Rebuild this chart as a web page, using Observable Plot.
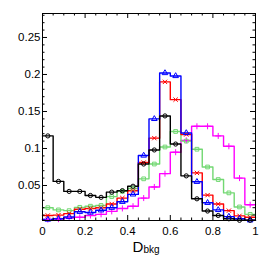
<!DOCTYPE html>
<html>
<head>
<meta charset="utf-8">
<script src="https://cdn.jsdelivr.net/npm/d3@7"></script>
<script src="https://cdn.jsdelivr.net/npm/@observablehq/plot@0.6"></script>
<style>
  html, body { margin: 0; padding: 0; background: #fff; }
  #chart svg { display: block; }
</style>
</head>
<body>
<div id="chart"></div>
<script>
// Bin lower edges of D_bkg (bin width 0.05)
const binLow = [0, 0.05, 0.1, 0.15, 0.2, 0.25, 0.3, 0.35, 0.4, 0.45, 0.5, 0.55, 0.6, 0.65, 0.7, 0.75, 0.8, 0.85, 0.9, 0.95];
const binWidth = 0.05;
const xMax = 1;

// Series values (normalised)
const blackVals   = [0.117, 0.0555, 0.042, 0.042, 0.0365, 0.034, 0.041, 0.043, 0.049, 0.079, 0.098, 0.144, 0.106, 0.063, 0.032, 0.0155, 0.0095, 0.005, 0.003, 0.003];
const blueVals    = [0.004, 0.005, 0.0075, 0.0145, 0.0135, 0.0165, 0.020, 0.028, 0.038, 0.0905, 0.140, 0.202, 0.198, 0.121, 0.055, 0.0266, 0.017, 0.008, 0.005, 0.003];
const redVals     = [0.0095, 0.010, 0.012, 0.018, 0.019, 0.020, 0.025, 0.033, 0.043, 0.081, 0.114, 0.190, 0.166, 0.119, 0.067, 0.037, 0.025, 0.016, 0.009, 0.007];
const greenVals   = [0.020, 0.017, 0.016, 0.0205, 0.022, 0.023, 0.035, 0.042, 0.046, 0.059, 0.079, 0.102, 0.123, 0.110, 0.099, 0.075, 0.058, 0.040, 0.021, 0.011];
const magentaVals = [0.004, 0.0045, 0.006, 0.007, 0.0095, 0.011, 0.015, 0.019, 0.022, 0.033, 0.048, 0.066, 0.095, 0.111, 0.130, 0.130, 0.117, 0.103, 0.060, 0.024];

// Axis ticks and labels
const xMajor = [0, 0.2, 0.4, 0.6, 0.8, 1];
const xMajorLabels = ["0", "0.2", "0.4", "0.6", "0.8", "1"];
const xMinor = [0.05, 0.1, 0.15, 0.25, 0.3, 0.35, 0.45, 0.5, 0.55, 0.65, 0.7, 0.75, 0.85, 0.9, 0.95];
const yMajor = [0.05, 0.1, 0.15, 0.2, 0.25];
const yMajorLabels = ["0.05", "0.1", "0.15", "0.2", "0.25"];
const yMinor = [0.01, 0.02, 0.03, 0.04, 0.06, 0.07, 0.08, 0.09, 0.11, 0.12, 0.13, 0.14, 0.16, 0.17, 0.18, 0.19, 0.21, 0.22, 0.23, 0.24, 0.26, 0.27, 0.28];
const xTitle = "D";
const xTitleSub = "bkg";

const series = [
  {name: "magenta", values: magentaVals, color: "#ff00ff", symbol: "plus"},
  {name: "green",   values: greenVals,   color: "#72d872", symbol: "square"},
  {name: "red",     values: redVals,     color: "#ff0000", symbol: "times"},
  {name: "blue",    values: blueVals,    color: "#0000ff", symbol: "triangle"},
  {name: "black",   values: blackVals,   color: "#000000", symbol: "circle"}
];

const lineMarks = series.map(s => {
  const pts = binLow.map((x, i) => ({x, y: s.values[i]}));
  pts.push({x: xMax, y: s.values[s.values.length - 1]});
  return Plot.line(pts, {x: "x", y: "y", curve: "step-after", stroke: s.color, strokeWidth: 1.4});
});
const dotMarks = series.map(s =>
  Plot.dot(binLow.map((x, i) => ({x: x + binWidth / 2, y: s.values[i]})),
    {x: "x", y: "y", symbol: () => s.symbol, r: 2.1, stroke: s.color, strokeWidth: 1, fill: "none"})
);

const W = 266, H = 255, mL = 42, mR = 11, mT = 13, mB = 35;
const innerW = W - mL - mR, innerH = H - mT - mB;

const chart = Plot.plot({
  width: W, height: H,
  marginLeft: mL, marginRight: mR, marginTop: mT, marginBottom: mB,
  style: {fontFamily: "'Liberation Sans', Arial, Helvetica, sans-serif", fontSize: "11.5px", background: "white", color: "black"},
  x: {domain: [0, 1], axis: null},
  y: {domain: [0.0027, 0.2824], axis: null},
  symbol: {type: "identity"},
  marks: [
    ...lineMarks,
    ...dotMarks,
    // ticks (inside the frame, ROOT style)
    Plot.ruleX(xMajor, {insetTop: innerH - 5, stroke: "black"}),
    Plot.ruleX(xMajor, {insetBottom: innerH - 5, stroke: "black"}),
    Plot.ruleX(xMinor, {insetTop: innerH - 2.5, stroke: "black"}),
    Plot.ruleX(xMinor, {insetBottom: innerH - 2.5, stroke: "black"}),
    Plot.ruleY(yMajor, {insetRight: innerW - 5, stroke: "black"}),
    Plot.ruleY(yMajor, {insetLeft: innerW - 5, stroke: "black"}),
    Plot.ruleY(yMinor, {insetRight: innerW - 2.5, stroke: "black"}),
    Plot.ruleY(yMinor, {insetLeft: innerW - 2.5, stroke: "black"}),
    Plot.frame({stroke: "black"}),
    Plot.axisX(xMajor, {tickSize: 0, tickPadding: 6, tickFormat: d => xMajorLabels[xMajor.indexOf(d)], label: null}),
    Plot.axisY(yMajor, {tickSize: 0, tickPadding: 2, tickFormat: d => yMajorLabels[yMajor.indexOf(d)], label: null}),
    Plot.text([xTitle], {frameAnchor: "bottom", dx: -11, dy: 21, fontSize: 15, textAnchor: "middle", lineAnchor: "top"}),
    Plot.text([xTitleSub], {frameAnchor: "bottom", dx: -5.5, dy: 25.5, fontSize: 10, textAnchor: "start", lineAnchor: "top"})
  ]
});
document.getElementById("chart").appendChild(chart);
</script>
</body>
</html>
